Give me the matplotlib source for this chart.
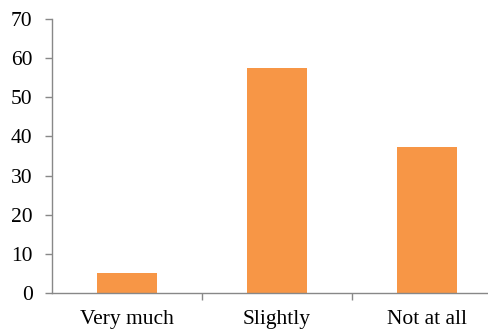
import matplotlib.pyplot as plt
import numpy as np

categories = ['Very much', 'Slightly', 'Not at all']
values = [5.1, 57.6, 37.3]

plt.rcParams['font.family'] = ['Liberation Serif', 'DejaVu Serif']

fig = plt.figure(figsize=(4.89, 3.31), dpi=100)
ax = fig.add_axes([52 / 489, 1 - 293 / 331, 450 / 489, (293 - 19) / 331])

x = np.arange(len(categories))
ax.bar(x, values, width=0.4, color='#F79646')

ax.set_xlim(-0.5, 2.5)
ax.set_ylim(0, 70)
ax.set_yticks(range(0, 71, 10))

ax.set_xticks(x)
ax.set_xticklabels(categories)
ax.set_xticks([0.5, 1.5], minor=True)
ax.tick_params(axis='x', which='major', length=0, labelsize=15.5, pad=12.5)
ax.tick_params(axis='x', which='minor', length=5, width=1, color='#888888')
ax.tick_params(axis='y', length=5, width=1, color='#888888', labelsize=15.5, pad=9)

for s in ['top', 'right']:
    ax.spines[s].set_visible(False)
for s in ['left', 'bottom']:
    ax.spines[s].set_color('#888888')
    ax.spines[s].set_linewidth(1)

fig.savefig('out.png', dpi=100)
